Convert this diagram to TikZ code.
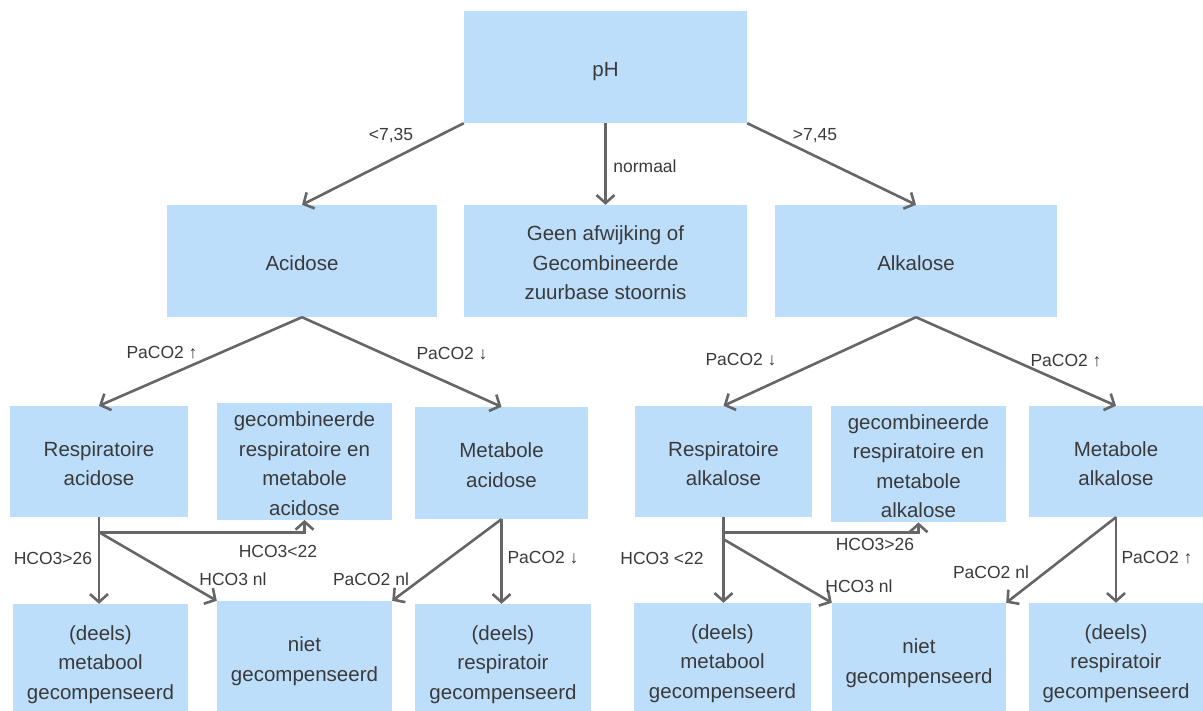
\documentclass[tikz,border=0pt]{standalone}
\usepackage{fontspec}
\setmainfont{Liberation Sans}
\usetikzlibrary{arrows.meta,calc}
\definecolor{boxfill}{HTML}{BDDEFB}
\definecolor{linegray}{HTML}{666666}
\definecolor{txtgray}{HTML}{3A3A3A}
\newcommand\boxstrut{\rule[-4.5pt]{0pt}{28pt}}
\newcommand\mlines[1]{\vbox{\let\\\cr\halign{\hfil\boxstrut##\hfil\cr#1\crcr}}}
\begin{document}
\begin{tikzpicture}[x=1pt,y=-1pt,
  box/.style={rectangle, fill=boxfill, draw=none, inner sep=0pt,
    text=txtgray, font=\fontsize{20.5}{29.5}\selectfont},
  lbl/.style={inner sep=0pt, text=txtgray, font=\fontsize{17.5}{20}\selectfont},
  conn/.style={draw=linegray, line width=2.6pt},
  arr/.style={conn, -{Straight Barb[length=8pt,width=18pt,line width=2.6pt]}}
]
\useasboundingbox (0,0) rectangle (1203,711);

% row 1
\node[box, minimum width=283pt, minimum height=112pt] (ph) at (605.5,67) {\mlines{pH}};
% row 2
\node[box, minimum width=270pt, minimum height=112pt] (acid) at (302,261) {\mlines{Acidose}};
\node[box, minimum width=283pt, minimum height=112pt] (geen) at (605.5,261) {\mlines{Geen afwijking of\\Gecombineerde\\zuurbase stoornis}};
\node[box, minimum width=282pt, minimum height=112pt] (alk) at (916,261) {\mlines{Alkalose}};
% row 3
\node[box, minimum width=178pt, minimum height=111pt] (resA) at (99,461.5) {\mlines{Respiratoire\\acidose}};
\node[box, minimum width=175pt, minimum height=111pt] (gcA) at (304.5,461.5) {\mlines{gecombineerde\\respiratoire en\\metabole\\acidose}};
\node[box, minimum width=173pt, minimum height=112pt] (mA) at (501.5,463) {\mlines{Metabole\\acidose}};
\node[box, minimum width=177pt, minimum height=111pt] (resK) at (723.5,461.5) {\mlines{Respiratoire\\alkalose}};
\node[box, minimum width=175pt, minimum height=112pt] (gcK) at (918.5,464) {\mlines{gecombineerde\\respiratoire en\\metabole\\alkalose}};
\node[box, minimum width=174pt, minimum height=111pt] (mK) at (1116,461.5) {\mlines{Metabole\\alkalose}};
% row 4
\node[box, minimum width=175pt, minimum height=112pt] (mbA) at (100.5,660) {\mlines{(deels)\\metabool\\gecompenseerd}};
\node[box, minimum width=175pt, minimum height=112pt] (ngA) at (304.5,657) {\mlines{niet\\gecompenseerd}};
\node[box, minimum width=176pt, minimum height=112pt] (rcA) at (503,660) {\mlines{(deels)\\respiratoir\\gecompenseerd}};
\node[box, minimum width=177pt, minimum height=112pt] (mbK) at (722.5,659) {\mlines{(deels)\\metabool\\gecompenseerd}};
\node[box, minimum width=174pt, minimum height=112pt] (ngK) at (919,659) {\mlines{niet\\gecompenseerd}};
\node[box, minimum width=174pt, minimum height=112pt] (rcK) at (1116,659) {\mlines{(deels)\\respiratoir\\gecompenseerd}};

% top connectors
\draw[arr] (ph.south west) -- (acid.north);
\draw[arr] (ph.south) -- (geen.north);
\draw[arr] (ph.south east) -- (alk.north);
% second level
\draw[arr] (acid.south) -- (resA.north);
\draw[arr] (acid.south) -- (mA.north);
\draw[arr] (alk.south) -- (resK.north);
\draw[arr] (alk.south) -- (mK.north);

% left lower
\coordinate (jA) at ($(resA.south)+(0,15)$);
\draw[arr] (resA.south) -- (resA.south |- mbA.north);
\draw[arr] (jA) -- (jA -| gcA.south) -- (gcA.south);
\draw[arr] (jA) -- (ngA.north west);
\draw[arr] (mA.south) -- (mA.south |- rcA.north);
\draw[arr] (mA.south) -- (ngA.north east);

% right lower
\coordinate (jK) at ($(resK.south)+(0,15)$);
\coordinate (jK2) at ($(resK.south)+(0,22)$);
\draw[arr] (resK.south) -- (resK.south |- mbK.north);
\draw[arr] (jK) -- (jK -| gcK.south) -- (gcK.south);
\draw[arr] (jK2) -- (ngK.north west);
\draw[arr] (mK.south) -- (mK.south |- rcK.north);
\draw[arr] (mK.south) -- (ngK.north east);

% labels
\node[lbl] (l1) at (391,136) {<7,35};
\node[lbl] (l2) at (645,166) {normaal};
\node[lbl] (l3) at (815,136) {>7,45};
\node[lbl] (l4) at (162,353) {PaCO2 ↑};
\node[lbl] (l5) at (452,354) {PaCO2 ↓};
\node[lbl] (l6) at (741,360) {PaCO2 ↓};
\node[lbl] (l7) at (1066,361) {PaCO2 ↑};
\node[lbl] (l8) at (53,558) {HCO3>26};
\node[lbl] (l9) at (278,551) {HCO3<22};
\node[lbl] (l10) at (233,579) {HCO3 nl};
\node[lbl] (l11) at (371,579) {PaCO2 nl};
\node[lbl] (l12) at (543,558) {PaCO2 ↓};
\node[lbl] (l13) at (662,558) {HCO3 <22};
\node[lbl] (l14) at (875,544) {HCO3>26};
\node[lbl] (l15) at (859,586) {HCO3 nl};
\node[lbl] (l16) at (991,572) {PaCO2 nl};
\node[lbl] (l17) at (1157,558) {PaCO2 ↑};
\end{tikzpicture}
\end{document}
